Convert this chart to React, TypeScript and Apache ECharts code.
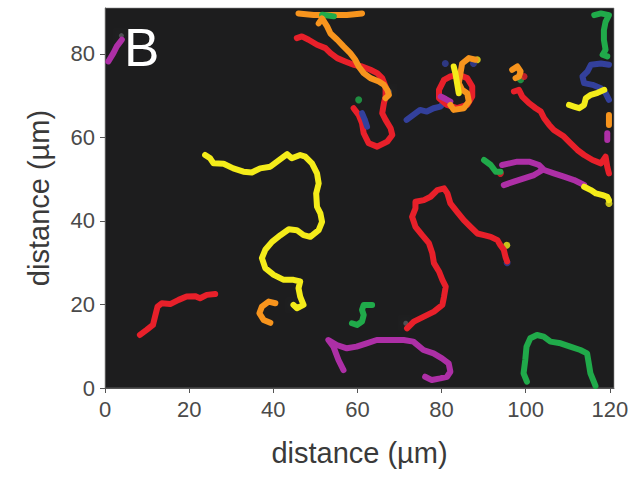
import React, { useEffect, useRef } from "react";
import * as echarts from "echarts";

const xTicks = [0, 20, 40, 60, 80, 100, 120];
const yTicks = [0, 20, 40, 60, 80];

const redLowLeft = [[8.3,12.7],[9.9,13.9],[11.4,15.1],[11.9,17.1],[12.5,19.5],[13.5,20.3],[15.5,20.1],[17.5,21.1],[19.4,21.9],[21.4,22.0],[22.6,21.5],[24.2,22.3],[26.2,22.5]];
const orangeC = [[40.5,20.3],[38.9,20.7],[37.3,19.5],[36.7,17.9],[37.7,16.3],[39.3,15.6]];
const yellowLong = [[23.8,55.8],[25.0,55.0],[25.8,53.8],[28.2,53.7],[30.5,52.6],[32.9,51.8],[34.9,51.6],[36.9,52.6],[39.3,53.0],[40.9,54.2],[43.3,56.0],[44.4,55.0],[46.4,55.8],[47.6,55.4],[49.2,53.8],[50.4,51.4],[50.8,49.0],[50.2,46.6],[50.4,43.4],[51.2,41.8],[51.6,39.8],[50.8,37.8],[48.8,36.2],[47.2,36.6],[45.6,37.8],[43.7,38.0],[41.7,36.6],[39.7,35.0],[38.1,33.1],[37.3,31.1],[38.1,28.7],[40.1,27.1],[42.5,25.9],[44.8,25.9],[46.4,25.5],[46.0,23.9],[46.4,21.9],[47.2,19.9],[45.6,19.1],[44.8,19.9]];
const redMid = [[71.8,14.3],[73.4,15.9],[75.8,17.1],[78.2,18.3],[80.2,19.9],[80.6,21.9],[81.0,24.3],[80.2,25.9],[79.4,27.9],[78.2,29.9],[77.8,32.3],[77.0,34.7],[75.4,36.6],[73.8,38.6],[73.0,41.0],[73.8,43.0],[73.8,44.6],[75.8,45.0],[77.4,45.8],[79.0,47.4],[80.6,47.8],[81.4,46.6],[82.1,44.2],[83.7,42.2],[85.3,40.2],[86.9,38.6],[88.5,37.0],[90.1,36.6],[91.7,36.2],[93.3,35.4],[94.0,34.2],[94.8,33.1],[95.2,31.4],[95.6,30.3]];
const greenS = [[63.5,19.9],[61.5,19.9],[61.1,18.7],[61.5,17.5],[61.1,15.9],[59.9,15.1],[58.7,15.5]];
const purpleLow = [[56.7,4.3],[55.5,6.7],[54.3,9.9],[53.1,11.5],[55.1,10.3],[57.5,9.5],[59.8,9.9],[62.2,10.7],[64.6,11.5],[67.8,11.5],[71.0,11.5],[73.3,11.1],[75.7,9.1],[78.1,8.3],[80.1,7.1],[81.7,5.9],[82.1,3.9],[81.3,2.7],[79.7,2.3],[77.7,1.9],[76.1,2.7]];
const greenArch = [[100.3,1.5],[99.5,3.5],[99.9,6.7],[100.2,9.9],[101.1,11.9],[102.7,12.7],[104.3,12.3],[105.9,11.1],[108.3,10.7],[110.6,9.9],[113.0,9.1],[114.6,8.3],[115.0,5.9],[115.4,3.5],[116.2,1.5],[116.6,0.5]];
const redTop = [[45.6,83.8],[46.8,84.2],[48.4,83.4],[50.4,82.2],[52.4,81.4],[53.6,80.2],[55.2,79.0],[57.1,78.2],[59.1,77.4],[61.1,77.0],[63.1,76.2],[64.7,75.4],[65.9,74.2],[66.7,72.2],[66.7,69.8],[66.3,68.2],[65.9,65.8],[66.7,64.2],[67.9,62.2],[68.3,60.6],[67.1,59.0],[64.7,57.8],[62.7,58.6],[61.5,61.0],[61.1,63.4],[60.3,65.4],[59.1,67.0]];
const blueInRed = [[61.1,65.8],[61.7,64.4],[62.3,62.6]];
const orangeTopBar = [[46.0,89.7],[49.6,89.3],[53.6,89.3],[57.5,89.3],[61.1,89.7]];
const greenTopBlob = [[51.6,89.4],[53.0,89.2],[54.4,89.0]];
const orangeTopBranch = [[50.8,87.3],[51.6,88.5],[52.8,86.6],[53.6,84.9],[55.2,83.4],[56.7,81.8],[58.3,80.2],[59.5,78.6],[60.3,77.0],[61.5,75.4],[63.1,74.2],[65.1,73.4],[66.3,72.6],[67.1,71.4],[67.5,70.2],[66.7,69.4]];
const blueWorm = [[71.7,64.2],[73.3,65.4],[74.9,66.6],[76.5,66.2],[78.1,67.0],[79.7,67.4],[80.9,68.6]];
const redLoop = [[80.6,73.8],[82.1,74.6],[84.1,75.0],[86.1,74.2],[87.3,72.2],[87.3,69.8],[86.1,67.8],[83.7,67.0],[81.3,67.8],[79.4,69.4],[79.4,71.4],[80.6,73.8]];
const orangeS = [[88.1,78.6],[86.5,79.0],[84.9,77.7],[84.5,75.4],[84.1,73.0],[84.9,71.4],[86.1,70.6],[86.5,68.6],[85.3,67.0],[82.9,66.6],[82.1,67.8]];
const yellowInner = [[82.9,77.0],[83.3,75.4],[83.7,73.0],[84.1,70.6]];
const purpleBit = [[79.8,69.8],[81.0,69.2],[82.1,68.6]];
const orangeSmallRight = [[96.8,76.2],[98.0,77.0],[98.8,75.8],[98.4,74.6],[97.6,74.2]];
const redDiagonal = [[97.2,71.0],[98.4,71.4],[99.2,69.8],[100.8,68.2],[102.4,67.0],[103.6,66.2],[104.4,64.6],[105.6,63.0],[106.7,61.8],[107.9,61.0],[109.1,60.2],[110.7,58.6],[112.3,57.0],[113.9,55.8],[115.9,54.6],[117.9,53.8],[119.0,55.4],[119.4,53.0],[119.8,51.4]];
const purpleUpper = [[94.4,53.4],[98.0,54.2],[100.8,54.2],[103.2,53.4],[104.4,52.2],[106.7,51.4],[109.1,50.6],[111.5,49.8],[113.9,48.6]];
const purpleLower = [[94.8,48.6],[97.2,49.4],[99.6,50.2],[102.0,51.0],[104.0,52.2]];
const greenHook = [[90.1,54.6],[91.7,53.4],[92.9,51.8],[94.0,51.8]];
const yellowTail = [[113.9,48.2],[115.5,47.4],[116.7,46.6],[118.3,46.2],[119.4,45.8],[119.8,45.0]];
const greenSeven = [[116.3,89.3],[117.9,89.7],[119.8,89.3],[119.0,87.7],[118.6,85.7],[118.6,83.4],[119.0,81.0],[118.3,79.8],[119.4,79.4]];
const blueRight = [[119.8,77.4],[117.9,77.7],[115.5,77.4],[114.7,75.8],[113.5,74.6],[113.9,73.0],[115.9,72.6],[117.9,71.8],[119.0,70.6],[119.8,69.0]];
const yellowRight = [[110.3,67.8],[111.5,67.4],[112.7,67.0],[113.9,67.8],[114.3,69.4],[115.5,70.2],[117.1,70.7],[118.7,71.4]];
const orangeEdge = [[119.8,65.4],[119.8,63.0]];
const purpleEdge = [[119.4,61.0],[119.4,59.4]];
const purpleCorner = [[0.8,78.2],[2.0,80.2],[2.8,81.8],[4.0,83.4]];

const yellowDots = [[95.5,34.2],[119.8,44.2],[88.5,78.6]];
const blueDots = [[95.6,30.0],[80.9,77.7],[87.6,77.7]];
const greenDots = [[60.3,69.0],[98.8,73.8]];
const redDots = [[94.0,51.4],[99.6,74.6]];
const glowDots = [[44.8,19.8],[67.6,71.0],[71.5,15.5],[3.9,84.4]];

const RED = "#e8202a";
const ORANGE = "#f7941d";
const YELLOW = "#f4ec1a";
const GREEN = "#20aa4a";
const PURPLE = "#ad2fa6";
const BLUE = "#33409c";

const tracks: [string, number[][], string][] = [
  ["redLowLeft", redLowLeft, RED],
  ["orangeC", orangeC, ORANGE],
  ["yellowLong", yellowLong, YELLOW],
  ["redMid", redMid, RED],
  ["greenS", greenS, GREEN],
  ["purpleLow", purpleLow, PURPLE],
  ["greenArch", greenArch, GREEN],
  ["redTop", redTop, RED],
  ["blueInRed", blueInRed, BLUE],
  ["orangeTopBar", orangeTopBar, ORANGE],
  ["greenTopBlob", greenTopBlob, GREEN],
  ["orangeTopBranch", orangeTopBranch, ORANGE],
  ["blueWorm", blueWorm, BLUE],
  ["redLoop", redLoop, RED],
  ["purpleBit", purpleBit, PURPLE],
  ["orangeS", orangeS, ORANGE],
  ["yellowInner", yellowInner, YELLOW],
  ["orangeSmallRight", orangeSmallRight, ORANGE],
  ["redDiagonal", redDiagonal, RED],
  ["purpleUpper", purpleUpper, PURPLE],
  ["purpleLower", purpleLower, PURPLE],
  ["greenHook", greenHook, GREEN],
  ["yellowTail", yellowTail, YELLOW],
  ["greenSeven", greenSeven, GREEN],
  ["blueRight", blueRight, BLUE],
  ["yellowRight", yellowRight, YELLOW],
  ["orangeEdge", orangeEdge, ORANGE],
  ["purpleEdge", purpleEdge, PURPLE],
  ["purpleCorner", purpleCorner, PURPLE],
];

const dotSets: [string, number[][], string][] = [
  ["yellowDots", yellowDots, YELLOW],
  ["blueDots", blueDots, BLUE],
  ["greenDots", greenDots, GREEN],
  ["redDots", redDots, RED],
];

const FONT = "Liberation Sans, Arial, Helvetica, sans-serif";

export default function App() {
  const ref = useRef<HTMLDivElement>(null);
  useEffect(() => {
    if (!ref.current) return;
    const chart = echarts.init(ref.current, null, { renderer: "svg" });
    const series: any[] = [];
    series.push({
      type: "scatter",
      name: "glow",
      data: glowDots,
      symbolSize: 5,
      silent: true,
      itemStyle: { color: "rgba(200,210,220,0.35)", shadowBlur: 12, shadowColor: "rgba(200,215,230,0.6)" },
    });
    tracks.forEach(([name, data, color]) => {
      series.push({
        type: "line",
        name,
        data,
        showSymbol: false,
        smooth: false,
        silent: true,
        lineStyle: { color, width: 6, cap: "round", join: "round" },
      });
    });
    dotSets.forEach(([name, data, color]) => {
      series.push({
        type: "scatter",
        name,
        data,
        symbolSize: 7,
        silent: true,
        itemStyle: { color },
      });
    });
    chart.setOption({
      animation: false,
      backgroundColor: "#ffffff",
      grid: {
        left: 105,
        right: 19,
        top: 8,
        bottom: 90,
        show: true,
        backgroundColor: "#1d1d1e",
        borderColor: "#8a8a8a",
        borderWidth: 0.6,
      },
      xAxis: {
        type: "value",
        min: 0,
        max: 121,
        interval: 20,
        name: "distance (µm)",
        nameLocation: "middle",
        nameGap: 50,
        nameTextStyle: { fontFamily: FONT, fontSize: 29, color: "#3a3a3a" },
        axisLine: { show: true, lineStyle: { color: "#555", width: 1 } },
        axisTick: { show: true, length: 5, lineStyle: { color: "#555" } },
        axisLabel: {
          fontFamily: FONT,
          fontSize: 22,
          color: "#4a4a4a",
          margin: 10,
          showMaxLabel: false,
          formatter: (v: number) => (xTicks.includes(v) ? String(v) : ""),
        },
        splitLine: { show: false },
      },
      yAxis: {
        type: "value",
        min: 0,
        max: 91,
        interval: 20,
        name: "distance (µm)",
        nameLocation: "middle",
        nameGap: 52,
        nameTextStyle: { fontFamily: FONT, fontSize: 29, color: "#3a3a3a" },
        axisLine: { show: true, lineStyle: { color: "#555", width: 1 } },
        axisTick: { show: true, length: 5, lineStyle: { color: "#555" } },
        axisLabel: {
          fontFamily: FONT,
          fontSize: 22,
          color: "#4a4a4a",
          margin: 10,
          showMaxLabel: false,
          formatter: (v: number) => (yTicks.includes(v) ? String(v) : ""),
        },
        splitLine: { show: false },
      },
      graphic: [
        {
          type: "text",
          left: 124,
          top: 21,
          silent: true,
          style: { text: "B", fontFamily: FONT, fontSize: 53, fill: "#ffffff" },
        },
      ],
      series,
    });
    return () => chart.dispose();
  }, []);
  return (
    <div
      ref={ref}
      style={{ position: "fixed", left: 0, top: 0, width: 633, height: 478 }}
    />
  );
}
